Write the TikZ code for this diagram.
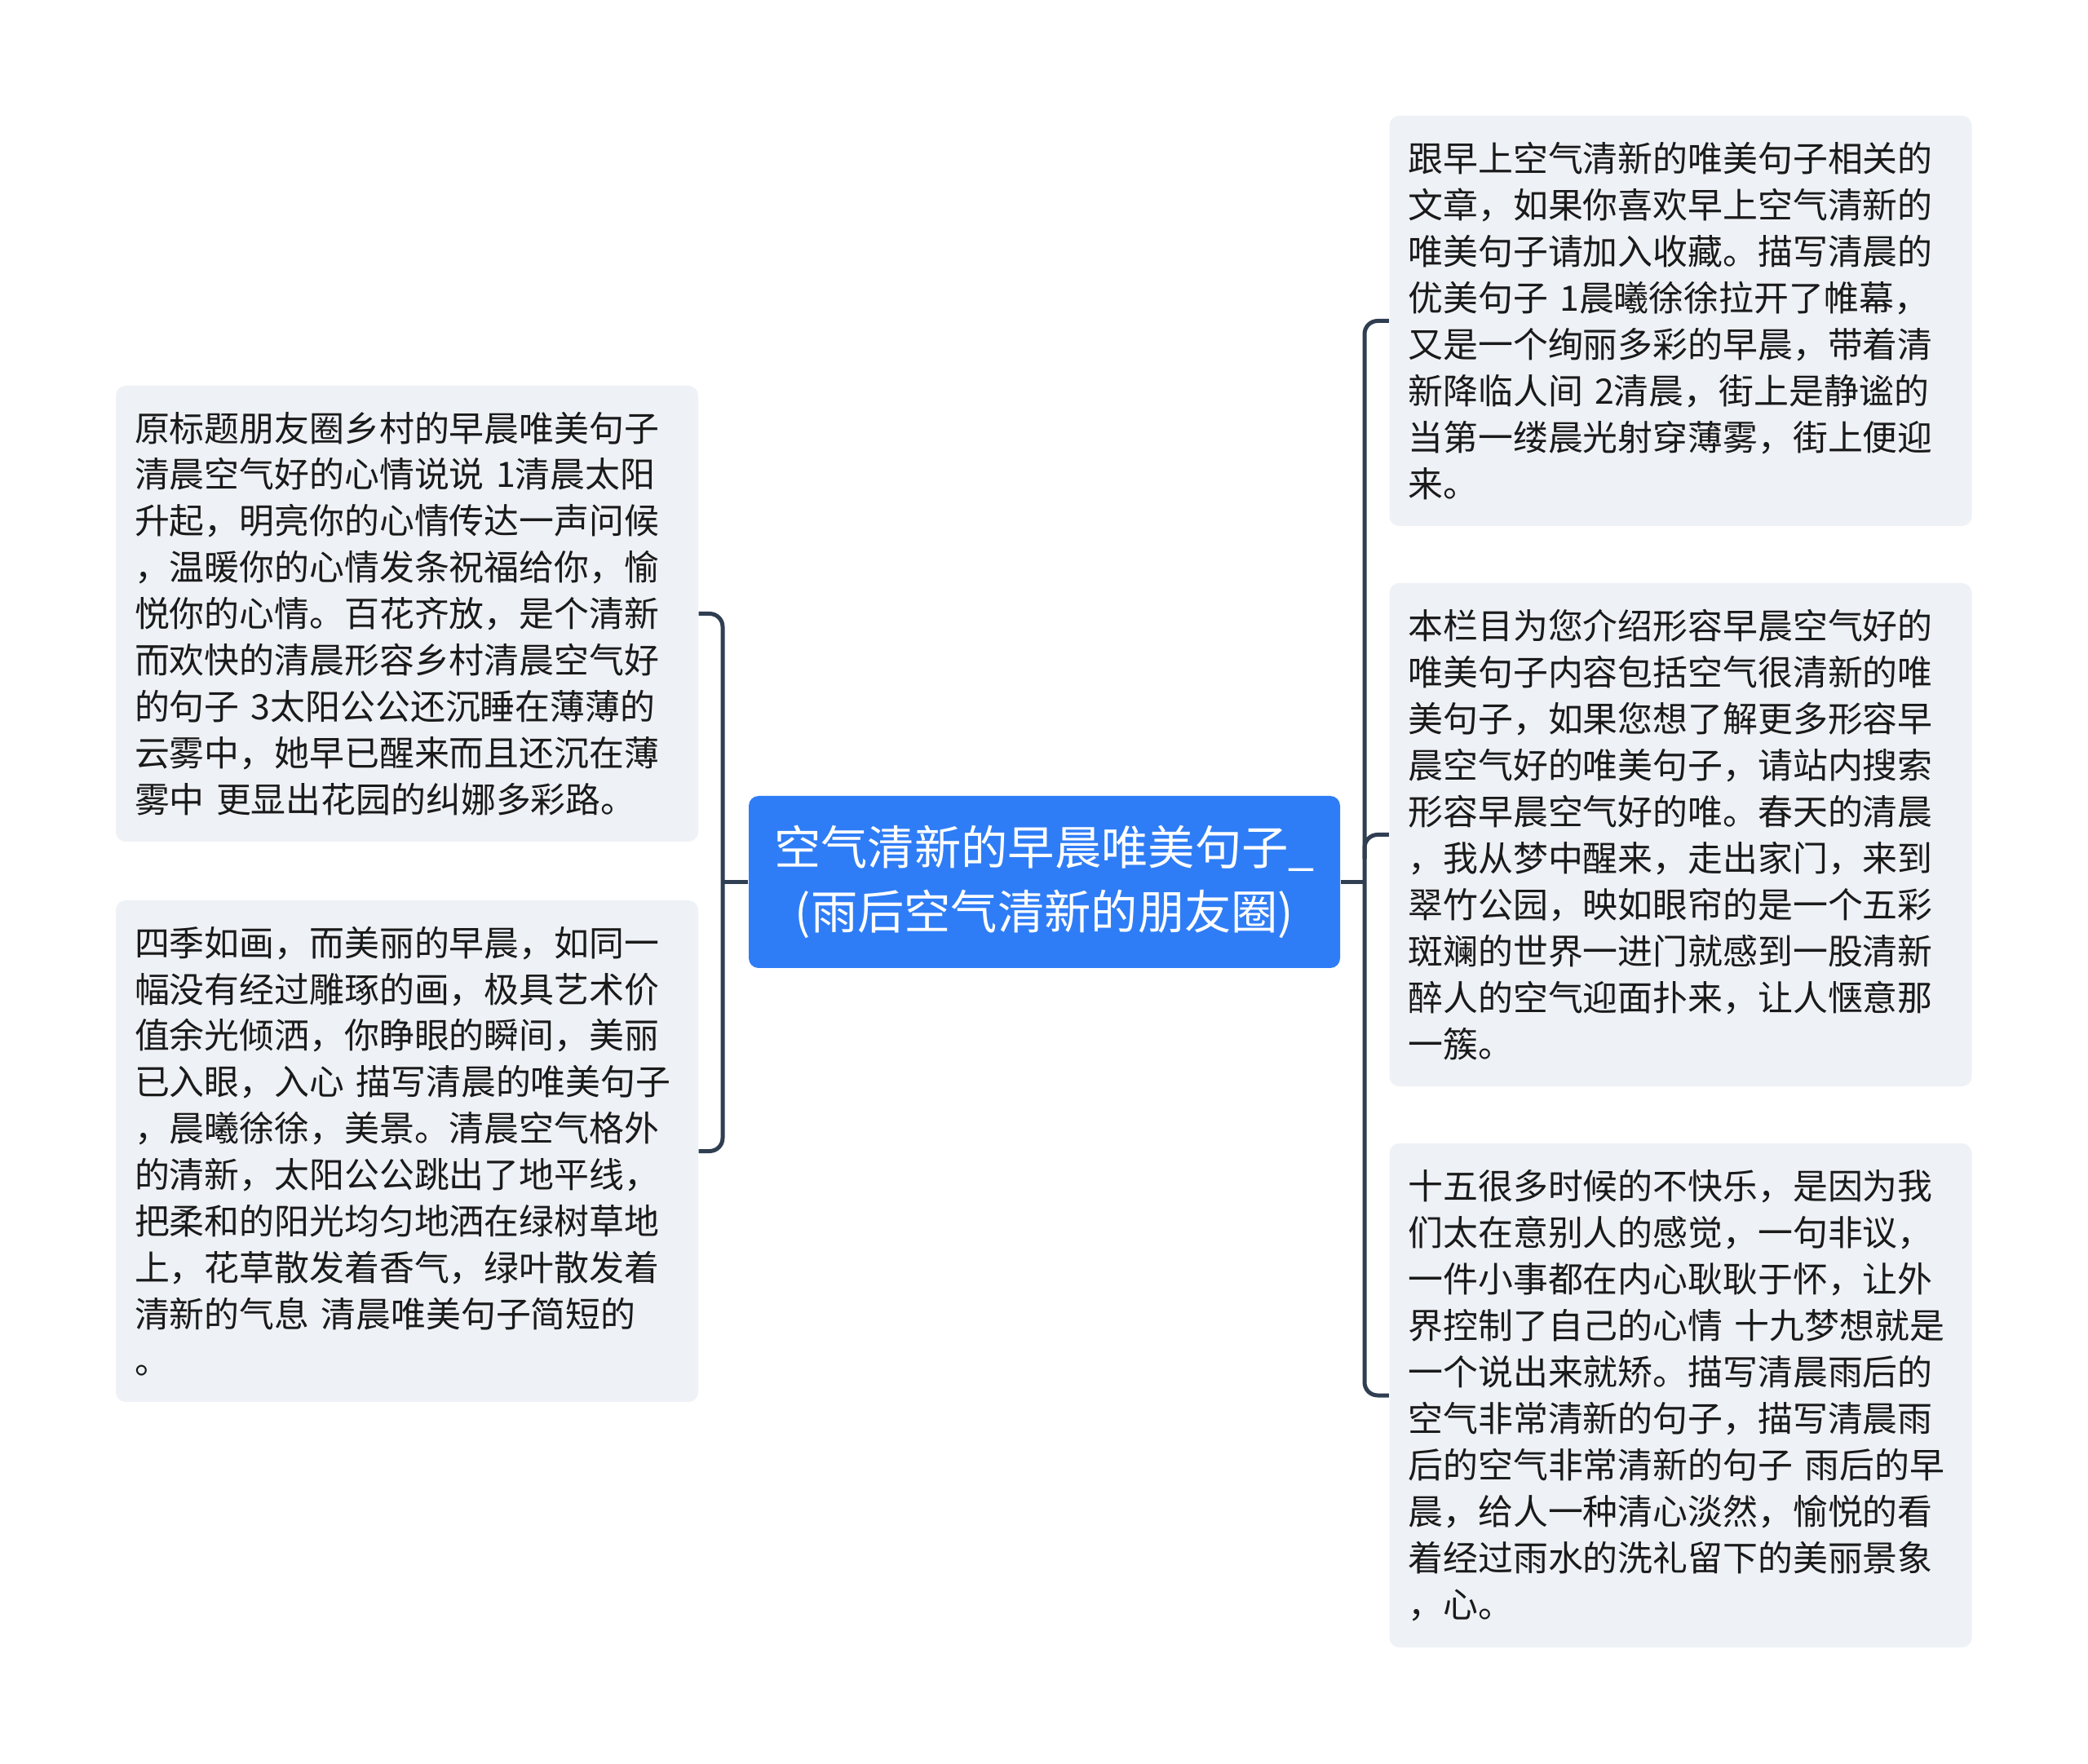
\documentclass[tikz,border=0pt]{standalone}
\usepackage{fontspec}
\setmainfont{Noto Sans CJK SC}
\definecolor{rootblue}{RGB}{47,125,246}
\definecolor{boxgray}{RGB}{238,241,245}
\definecolor{linkslate}{RGB}{48,62,82}
\definecolor{inktext}{RGB}{26,26,26}
\begin{document}
\begin{tikzpicture}[
  rootbox/.style={fill=rootblue, text=white, rounded corners=0.12cm, align=center,
    minimum width=7.25cm, minimum height=2.11cm, inner sep=0pt,
    font=\fontsize{16.3pt}{22.3pt}\selectfont},
  leafbox/.style={fill=boxgray, text=inktext, rounded corners=0.12cm, align=left,
    text width=6.68cm, inner xsep=0.23cm, inner ysep=0pt,
    font=\fontsize{12.2pt}{16.2pt}\selectfont},
  link/.style={draw=linkslate, line width=0.05cm, rounded corners=0.16cm}]
  \fill[white] (0,0) rectangle (25.6,-21.63);
  \useasboundingbox (0,0) rectangle (25.6,-21.63);
  \node[rootbox] (root) at (12.805,-10.815) {空气清新的早晨唯美句子\_\\(雨后空气清新的朋友圈)};
  \node[leafbox, minimum height=5.59cm] (l1) at (4.99,-7.525) {原标题朋友圈乡村的早晨唯美句子\\清晨空气好的心情说说~1清晨太阳\\升起，明亮你的心情传达一声问候\\，温暖你的心情发条祝福给你，愉\\悦你的心情。百花齐放，是个清新\\而欢快的清晨形容乡村清晨空气好\\的句子~3太阳公公还沉睡在薄薄的\\云雾中，她早已醒来而且还沉在薄\\雾中~更显出花园的纠娜多彩路。};
  \node[leafbox, minimum height=6.15cm] (l2) at (4.99,-14.115) {四季如画，而美丽的早晨，如同一\\幅没有经过雕琢的画，极具艺术价\\值余光倾洒，你睁眼的瞬间，美丽\\已入眼，入心~描写清晨的唯美句子\\，晨曦徐徐，美景。清晨空气格外\\的清新，太阳公公跳出了地平线，\\把柔和的阳光均匀地洒在绿树草地\\上，花草散发着香气，绿叶散发着\\清新的气息~清晨唯美句子简短的\\。};
  \node[leafbox, minimum height=5.03cm] (r1) at (20.605,-3.935) {跟早上空气清新的唯美句子相关的\\文章，如果你喜欢早上空气清新的\\唯美句子请加入收藏。描写清晨的\\优美句子~1晨曦徐徐拉开了帷幕，\\又是一个绚丽多彩的早晨，带着清\\新降临人间~2清晨，街上是静谧的\\当第一缕晨光射穿薄雾，街上便迎\\来。};
  \node[leafbox, minimum height=6.17cm] (r2) at (20.605,-10.235) {本栏目为您介绍形容早晨空气好的\\唯美句子内容包括空气很清新的唯\\美句子，如果您想了解更多形容早\\晨空气好的唯美句子，请站内搜索\\形容早晨空气好的唯。春天的清晨\\，我从梦中醒来，走出家门，来到\\翠竹公园，映如眼帘的是一个五彩\\斑斓的世界一进门就感到一股清新\\醉人的空气迎面扑来，让人惬意那\\一簇。};
  \node[leafbox, minimum height=6.18cm] (r3) at (20.605,-17.11) {十五很多时候的不快乐，是因为我\\们太在意别人的感觉，一句非议，\\一件小事都在内心耿耿于怀，让外\\界控制了自己的心情~十九梦想就是\\一个说出来就矫。描写清晨雨后的\\空气非常清新的句子，描写清晨雨\\后的空气非常清新的句子~雨后的早\\晨，给人一种清心淡然，愉悦的看\\着经过雨水的洗礼留下的美丽景象\\，心。};
  \coordinate (hubL) at (8.86,-10.815);
  \coordinate (hubR) at (16.73,-10.815);
  \draw[link] (root.west) -- (hubL);
  \draw[link] (l1.east) -| (hubL) |- (l2.east);
  \draw[link] (root.east) -- (hubR);
  \draw[link] (r1.west) -| (hubR) |- (r3.west);
  \draw[link] ([yshift=-0.3cm]hubR |- r2.west) |- (r2.west);
\end{tikzpicture}
\end{document}
